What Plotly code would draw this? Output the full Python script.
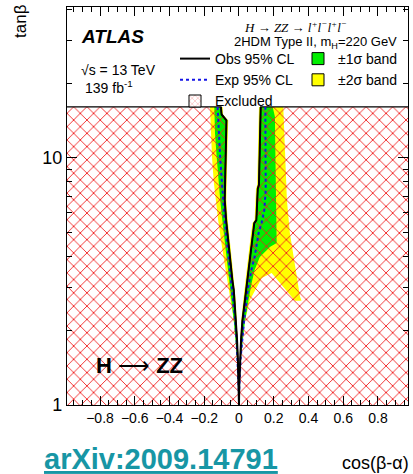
import plotly.graph_objects as go

# ---------------- data ----------------
# observed 95% CL contour: left branch (top -> bottom) and right branch (bottom -> top)
obs_left_tanb = [16.1, 15.0, 14.2, 12.6, 10, 8.0, 6.76, 5.61, 4.97, 4.24, 3.62, 3.2, 2.92, 2.66, 2.2, 1.83, 1.5, 1.23, 1.0]
obs_left_cos = [-0.104, -0.100, -0.072, -0.074, -0.078, -0.081, -0.082, -0.074, -0.067, -0.057, -0.046, -0.038, -0.030, -0.026, -0.017, -0.011, -0.006, -0.001, 0.0]
obs_right_tanb = [1.0, 1.23, 1.5, 1.83, 2.2, 2.66, 2.92, 3.2, 3.62, 4.24, 4.97, 5.45, 5.6, 6.5, 7.5, 7.8, 10, 12.6, 16.1]
obs_right_cos = [0.0, 0.002, 0.005, 0.012, 0.020, 0.034, 0.039, 0.047, 0.057, 0.068, 0.080, 0.088, 0.100, 0.105, 0.108, 0.115, 0.119, 0.122, 0.125]

# expected 95% CL contour
exp_left_tanb = [16.1, 12.6, 10, 8.0, 6.76, 5.61, 4.24, 3.62, 2.92, 2.66, 2.2, 1.83, 1.5, 1.23, 1.1]
exp_left_cos = [-0.123, -0.117, -0.108, -0.098, -0.090, -0.082, -0.064, -0.053, -0.038, -0.033, -0.022, -0.014, -0.007, -0.002, 0.0]
exp_right_tanb = [1.1, 1.23, 1.56, 2.15, 2.66, 2.92, 3.62, 3.97, 4.97, 5.46, 6.16, 7.42, 10, 16.1]
exp_right_cos = [0.0, 0.003, 0.010, 0.028, 0.044, 0.050, 0.075, 0.090, 0.113, 0.130, 0.146, 0.154, 0.153, 0.152]

# +-1 sigma band outer edges (inner edges follow the observed contour)
g1_left_tanb = [16.1, 12.6, 10, 8, 6.76, 5.61, 4.24, 3.62, 2.66, 2.2, 1.83, 1.5, 1.3]
g1_left_cos = [-0.142, -0.138, -0.128, -0.118, -0.108, -0.096, -0.075, -0.064, -0.042, -0.030, -0.020, -0.011, -0.004]
g1_right_tanb = [16.1, 14.7, 12.6, 10, 7.42, 4.53, 4.37, 3.97, 3.52, 3.12, 2.66, 2.15, 1.56, 1.26]
g1_right_cos = [0.194, 0.207, 0.208, 0.210, 0.213, 0.217, 0.180, 0.120, 0.090, 0.073, 0.055, 0.033, 0.012, 0.003]

# +-2 sigma band (outer edge top->bottom, inner edge bottom->top)
y2_left_out_tanb = [16.1, 12.6, 10, 8, 6.76, 5.61, 4.24, 3.62, 2.66, 2.2, 1.83, 1.6, 1.45]
y2_left_out_cos = [-0.167, -0.162, -0.155, -0.145, -0.134, -0.120, -0.095, -0.080, -0.050, -0.030, -0.020, -0.012, -0.004]
y2_left_in_tanb = [1.45, 1.6, 1.83, 2.2, 2.66, 3.62, 4.24, 5.61, 6.76, 8, 10, 12.6, 14.2, 15.0, 16.1]
y2_left_in_cos = [-0.002, -0.004, -0.007, -0.012, -0.019, -0.037, -0.048, -0.065, -0.073, -0.072, -0.068, -0.064, -0.062, -0.092, -0.094]
y2_right_out_tanb = [16.1, 12.6, 10, 6.76, 4.97, 3.62, 2.75, 2.64, 2.64, 3.42, 3.27, 2.66, 2.2, 1.83, 1.6]
y2_right_out_cos = [0.255, 0.262, 0.266, 0.276, 0.293, 0.322, 0.351, 0.360, 0.322, 0.188, 0.131, 0.063, 0.035, 0.018, 0.008]
y2_right_in_tanb = [1.6, 1.83, 2.2, 2.66, 3.2, 3.62, 4.24, 4.97, 5.45, 5.6, 7.5, 7.8, 10, 16.1]
y2_right_in_cos = [0.004, 0.008, 0.013, 0.025, 0.037, 0.047, 0.058, 0.070, 0.078, 0.090, 0.098, 0.105, 0.109, 0.115]

# scan limits
cos_limits = [-1.0, 1.0]
tanb_limits = [1.0, 16.1]

x_ticks = [-0.8, -0.6, -0.4, -0.2, 0, 0.2, 0.4, 0.6, 0.8]
x_tick_labels = ["−0.8", "−0.6", "−0.4", "−0.2", "0", "0.2", "0.4", "0.6", "0.8"]
y_ticks = [1, 10]
y_tick_labels = ["1", "10"]
y_minor = [2, 3, 4, 5, 6, 7, 8, 9, 20, 30, 40]

# ---------------- figure ----------------
W, H = 413, 474
ML, MR, MT, MB = 67, 5, 7, 69
PW, PH = W - ML - MR, H - MT - MB

def xp(px):
    return (px - ML) / PW

def yp(py):
    return (H - MB - py) / PH

SANS = "Liberation Sans, Arial, sans-serif"
SERIF = "Liberation Serif, Times New Roman, serif"
GREEN = "rgb(0,238,0)"
YELLOW = "rgb(255,255,0)"
RED = "rgb(240,30,30)"

fig = go.Figure()

# yellow band (two pieces)
fig.add_trace(go.Scatter(
    x=y2_left_out_cos + y2_left_in_cos + [None] + y2_right_out_cos + y2_right_in_cos,
    y=y2_left_out_tanb + y2_left_in_tanb + [None] + y2_right_out_tanb + y2_right_in_tanb,
    mode="lines", line=dict(width=0), fill="toself", fillcolor=YELLOW,
    showlegend=False, hoverinfo="skip"))

# green band (two pieces)
fig.add_trace(go.Scatter(
    x=g1_left_cos + obs_left_cos[::-1] + [None] + g1_right_cos + obs_right_cos,
    y=g1_left_tanb + obs_left_tanb[::-1] + [None] + g1_right_tanb + obs_right_tanb,
    mode="lines", line=dict(width=0), fill="toself", fillcolor=GREEN,
    showlegend=False, hoverinfo="skip"))

# excluded region (hatched)
excl_x = [cos_limits[0], cos_limits[0]] + obs_left_cos + obs_right_cos + [cos_limits[1], cos_limits[1]]
excl_y = [tanb_limits[0], tanb_limits[1]] + obs_left_tanb + obs_right_tanb + [tanb_limits[1], tanb_limits[0]]
fig.add_trace(go.Scatter(
    x=excl_x, y=excl_y, mode="lines", line=dict(color="black", width=1.2),
    fill="toself", fillcolor="rgba(0,0,0,0)",
    fillpattern=dict(shape="x", size=9.4, solidity=0.18, fgcolor=RED, fgopacity=1, fillmode="overlay"),
    showlegend=False, hoverinfo="skip"))

# expected line
fig.add_trace(go.Scatter(
    x=exp_left_cos + exp_right_cos, y=exp_left_tanb + exp_right_tanb,
    mode="lines", line=dict(color="rgb(20,20,230)", width=2, dash="dot"),
    name="Exp 95% CL", legendrank=3))

# observed line
fig.add_trace(go.Scatter(
    x=obs_left_cos + obs_right_cos, y=obs_left_tanb + obs_right_tanb,
    mode="lines", line=dict(color="black", width=2),
    name="Obs 95% CL", legendrank=1))

# legend-only box entries
fig.add_trace(go.Bar(x=[None], y=[None], name="±1σ band", legendrank=2,
                     marker=dict(color=GREEN, line=dict(color="black", width=1))))
fig.add_trace(go.Bar(x=[None], y=[None], name="±2σ band", legendrank=4,
                     marker=dict(color=YELLOW, line=dict(color="black", width=1))))
fig.add_trace(go.Bar(x=[None], y=[None], name="Excluded", legendrank=5,
                     marker=dict(color="white", line=dict(color="black", width=1),
                                 pattern=dict(shape="x", size=5, solidity=0.2, fgcolor=RED))))

axis_common = dict(showline=True, linecolor="black", linewidth=1.2, mirror="allticks",
                   ticks="inside", tickcolor="black", showgrid=False, zeroline=False)

fig.update_layout(
    width=W, height=H, margin=dict(l=ML, r=MR, t=MT, b=MB, autoexpand=False),
    paper_bgcolor="white", plot_bgcolor="white",
    font=dict(family=SANS, color="black"),
    xaxis=dict(range=[-0.99, 0.973], type="linear", tickmode="array",
               tickvals=x_ticks, ticktext=x_tick_labels, ticklen=9,
               tickfont=dict(size=14, family=SANS),
               minor=dict(dtick=0.05, tick0=0, ticks="inside", ticklen=5, tickcolor="black"),
               **axis_common),
    yaxis=dict(type="log", range=[0, 1.6113], tickmode="array",
               tickvals=y_ticks, ticktext=y_tick_labels, ticklen=10,
               tickfont=dict(size=18, family=SANS),
               minor=dict(tickmode="array", tickvals=y_minor, ticks="inside", ticklen=5, tickcolor="black"),
               **axis_common),
    showlegend=True,
    legend=dict(orientation="h", x=xp(175), y=yp(43), xanchor="left", yanchor="top",
                entrywidth=78, entrywidthmode="pixels", itemwidth=30,
                bgcolor="rgba(0,0,0,0)", borderwidth=0, traceorder="normal",
                font=dict(size=14, family=SANS, color="black")),
    barmode="overlay",
)

annotations = [
    dict(text="<b><i>ATLAS</i></b>", x=xp(79), y=yp(36), xanchor="left", yanchor="middle",
         font=dict(size=19, family=SANS)),
    dict(text="√s = 13 TeV", x=xp(79), y=yp(70), xanchor="left", yanchor="middle",
         font=dict(size=14, family=SANS)),
    dict(text="139 fb<sup>-1</sup>", x=xp(83), y=yp(87), xanchor="left", yanchor="middle",
         font=dict(size=14, family=SANS)),
    dict(text="<i>H → ZZ → l<sup>+</sup>l<sup>−</sup>l<sup>+</sup>l<sup>−</sup></i>", x=xp(295), y=yp(27),
         xanchor="center", yanchor="middle", font=dict(size=13, family=SERIF)),
    dict(text="2HDM Type II, m<sub>H</sub>=220 GeV", x=xp(232), y=yp(42), xanchor="left", yanchor="middle",
         font=dict(size=13, family=SANS)),
    dict(text="<b>H</b> ⟶ <b>ZZ</b>", x=xp(94), y=yp(365), xanchor="left", yanchor="middle",
         font=dict(size=22, family=SANS)),
    dict(text="tanβ", x=xp(20), y=yp(2), xanchor="center", yanchor="top", textangle=-90,
         font=dict(size=17, family=SANS)),
    dict(text="cos(β-α)", x=xp(411), y=yp(463), xanchor="right", yanchor="middle",
         font=dict(size=18, family=SANS)),
    dict(text="<b><u>arXiv:2009.14791</u></b>", x=xp(42), y=yp(459), xanchor="left", yanchor="middle",
         font=dict(size=29, family=SANS, color="rgb(23,150,165)")),
]
for a in annotations:
    a.update(xref="paper", yref="paper", showarrow=False)
fig.update_layout(annotations=annotations)

fig.write_html("out.html")
